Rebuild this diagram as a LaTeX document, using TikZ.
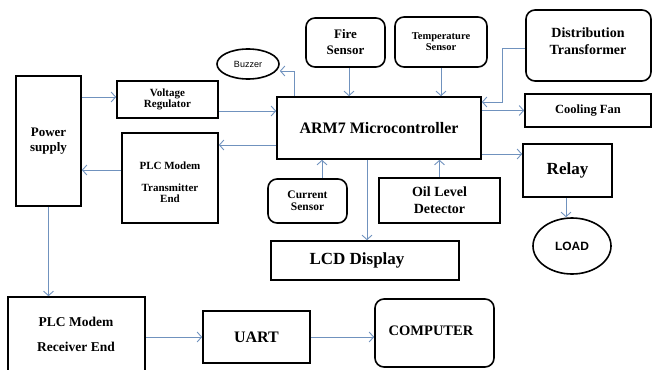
\documentclass[tikz,border=0pt]{standalone}
\usepackage{fontspec}
\setmainfont{Liberation Serif}
\newfontfamily\serf{Liberation Serif}
\newfontfamily\sansf{Liberation Sans}
\usetikzlibrary{arrows.meta,shapes.geometric,calc}
\definecolor{conn}{RGB}{112,146,190}
\newcommand\fs[2]{\fontsize{#1}{#2}\selectfont}
\newcommand\mkbox[7]{\node[#1,minimum width={#4pt-#2pt},minimum height={#5pt-#3pt}] (#6) at ({(#2+#4)/2},{(#3+#5)/2}) {#7};}
\begin{document}
\begin{tikzpicture}[x=1pt,y=-1pt,
  box/.style={draw=black,line width=1.6pt,inner sep=0pt,fill=white,align=center},
  rbox/.style={box,rounded corners=9pt},
  oval/.style={draw=black,line width=1.6pt,ellipse,inner sep=0pt},
  txt/.style={align=center,inner sep=0pt}]
\tikzset{arr/.style={draw=conn,line width=0.9pt,-{Straight Barb[length=4.5pt,width=10pt]}}}
\useasboundingbox (0,0) rectangle (652,369);
\clip (0,0) rectangle (652,369);
% level coordinates
\coordinate (h48) at (0,48);
\coordinate (h71) at (0,71);
\coordinate (h97) at (0,97);
\coordinate (h102) at (0,102);
\coordinate (h111) at (0,111);
\coordinate (h145) at (0,145);
\coordinate (h154) at (0,154);
\coordinate (h170) at (0,170);
\coordinate (v294) at (294,0);
\coordinate (v322) at (322,0);
\coordinate (v349) at (349,0);
\coordinate (v367) at (367,0);
\coordinate (v502) at (502,0);
\coordinate (v566) at (566,0);
% boxes
\mkbox{box,font=\serf\bfseries\fs{13}{15}}{16}{76}{81}{206}{ps}{Power\\supply}
\mkbox{box,font=\serf\bfseries\fs{11}{11}}{117}{81}{218}{118}{vr}{Voltage\\Regulator}
\mkbox{box}{122}{133}{218}{223}{ptx}{}
\node[txt,font=\serf\bfseries\fs{11}{11}] (ptxt1) at (170,166) {PLC Modem};
\node[txt,font=\serf\bfseries\fs{11}{11}] (ptxt2) at (170,193) {Transmitter\\End};
\node[oval,minimum width=62pt,minimum height=30pt,font=\sansf\fs{9}{9}] (buz) at (248,64) {Buzzer};
\mkbox{box,font=\serf\bfseries\fs{16}{16}}{277}{97}{481}{159}{arm}{ARM7 Microcontroller}
\mkbox{rbox,font=\serf\bfseries\fs{13}{16}}{306}{18}{385}{67}{fire}{Fire\\Sensor}
\mkbox{rbox,font=\serf\bfseries\fs{10.5}{11}}{395}{17}{487}{67}{temp}{Temperature\\Sensor}
\mkbox{rbox}{526}{10}{651}{81}{dt}{}
\node[txt,font=\serf\bfseries\fs{14}{17}] (dttxt) at (588,41.5) {Distribution\\Transformer};
\mkbox{box,font=\serf\bfseries\fs{12.5}{12.5}}{525}{94}{651}{127}{cf}{Cooling Fan}
\mkbox{box,font=\serf\bfseries\fs{17}{17}}{523}{144}{612}{197}{relay}{Relay}
\node[oval,minimum width=78pt,minimum height=56pt,font=\sansf\bfseries\fs{12}{12}] (load) at (572,246) {LOAD};
\mkbox{rbox,font=\serf\bfseries\fs{11.5}{12}}{268}{179}{347}{223}{cur}{Current\\Sensor}
\mkbox{box,font=\serf\bfseries\fs{14}{17}}{379}{178}{500}{223}{oil}{Oil Level\\Detector}
\mkbox{box}{271}{241}{459}{280}{lcd}{}
\node[txt,font=\serf\bfseries\fs{17}{17}] (lcdtxt) at (357,260) {LCD Display};
\mkbox{box}{8}{297}{145}{373}{prx}{}
\node[txt,font=\serf\bfseries\fs{13.5}{25}] (prxtxt) at (76,334.5) {PLC Modem\\Receiver End};
\mkbox{box,font=\serf\bfseries\fs{16}{16}}{203}{311}{310}{363}{uart}{UART}
\mkbox{rbox}{375}{299}{494}{367}{comp}{}
\node[txt,font=\serf\bfseries\fs{14.5}{14.5}] (comptxt) at (431,331) {COMPUTER};
% connectors
\draw[arr] (ps.east |- h97) -- (vr.west |- h97);
\draw[arr] (vr.east |- h111) -- (arm.west |- h111);
\draw[arr] (arm.north -| v294) -- (v294 |- h71) -- (buz.east |- h71);
\draw[arr] (arm.west |- h145) -- (ptx.east |- h145);
\draw[arr] (ptx.west |- h170) -- (ps.east |- h170);
\draw[arr] (fire.south -| v349) -- (arm.north -| v349);
\draw[arr] (temp.south) -- (temp.south |- arm.north);
\draw[arr] (dt.west |- h48) -- (v502 |- h48) -- (v502 |- h102) -- (arm.east |- h102);
\draw[arr] (arm.east |- cf.west) -- (cf.west);
\draw[arr] (arm.east |- h154) -- (relay.west |- h154);
\draw[arr] (cur.north -| v322) -- (arm.south -| v322);
\draw[arr] (oil.north) -- (oil.north |- arm.south);
\draw[arr] (arm.south -| v367) -- (lcd.north -| v367);
\draw[arr] (relay.south -| v566) -- (load.north -| v566);
\draw[arr] (ps.south) -- (ps.south |- prx.north);
\draw[arr] (prx.east |- uart.west) -- (uart.west);
\draw[arr] (uart.east) -- (uart.east -| comp.west);
\end{tikzpicture}
\end{document}
